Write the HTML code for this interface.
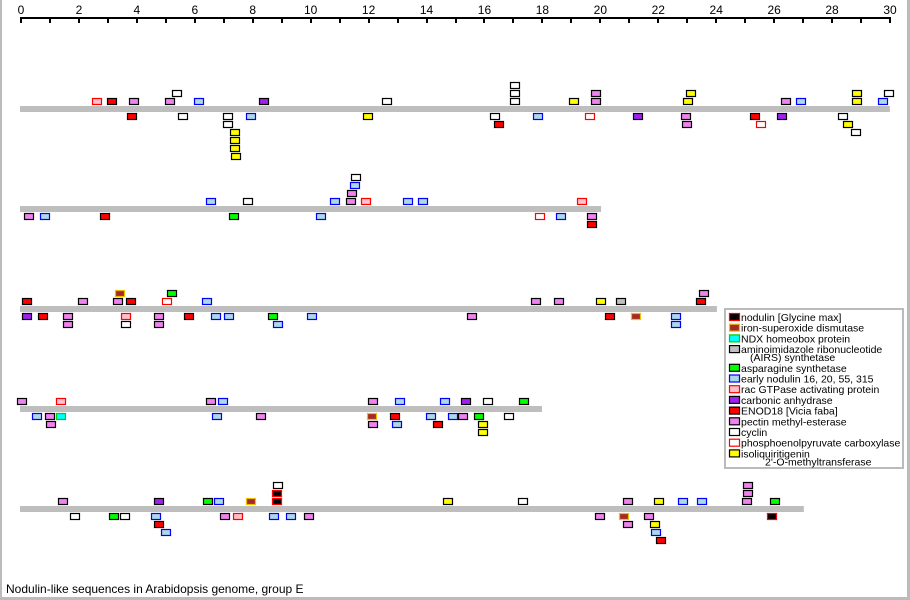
<!DOCTYPE html>
<html><head><meta charset="utf-8"><style>
body{margin:0;background:#fff;}
svg{display:block;font-family:"Liberation Sans",sans-serif;}
</style></head><body>
<svg id="chart" width="910" height="600" xmlns="http://www.w3.org/2000/svg">
<rect x="0" y="0" width="2" height="600" fill="#bbb"/>
<rect x="907" y="0" width="3" height="600" fill="#bbb"/>
<rect x="0" y="597" width="910" height="3" fill="#bbb"/>
<g id="axis"></g>
<g id="chroms"></g>
<g id="legend"></g>
<text x="6" y="593" font-size="12" fill="#000">Nodulin-like sequences in Arabidopsis genome, group E</text>
</svg>
<script>
const axisTicks = [0,1,2,3,4,5,6,7,8,9,10,11,12,13,14,15,16,17,18,19,20,21,22,23,24,25,26,27,28,29,30];
const axisLabels = ["0","2","4","6","8","10","12","14","16","18","20","22","24","26","28","30"];
const chromLengths = [30.03, 20.06, 24.06, 18.02, 27.06];
const chromNames = ["chromosome-1","chromosome-2","chromosome-3","chromosome-4","chromosome-5"];
const typeKeys = ["nod","sod","ndx","airs","asn","enod","rac","ca","e18","pme","cyc","pep","iso"];
const typeLabels = ["nodulin [Glycine max]","iron-superoxide dismutase","NDX homeobox protein","aminoimidazole ribonucleotide|(AIRS) synthetase","asparagine synthetase","early nodulin 16, 20, 55, 315","rac GTPase activating protein","carbonic anhydrase","ENOD18 [Vicia faba]","pectin methyl-esterase","cyclin","phosphoenolpyruvate carboxylase","isoliquiritigenin|2'-O-methyltransferase"];
const chr1Markers = [[2.66,1,'rac'],[3.18,1,'e18'],[3.94,1,'pme'],[5.18,1,'pme'],[6.18,1,'enod'],[8.42,1,'ca'],[12.67,1,'cyc'],[17.09,1,'cyc'],[19.12,1,'iso'],[19.88,1,'pme'],[23.06,1,'iso'],[26.44,1,'pme'],[26.96,1,'enod'],[28.89,1,'iso'],[29.79,1,'enod'],
[5.42,2,'cyc'],[17.09,2,'cyc'],[19.88,2,'pme'],[23.16,2,'iso'],[28.89,2,'iso'],[29.99,2,'cyc'],[17.09,3,'cyc'],
[3.87,-1,'e18'],[5.63,-1,'cyc'],[7.18,-1,'cyc'],[7.97,-1,'enod'],[12.01,-1,'iso'],[16.40,-1,'cyc'],[17.88,-1,'enod'],[19.68,-1,'pep'],[21.33,-1,'ca'],[22.99,-1,'pme'],[25.37,-1,'e18'],[26.30,-1,'ca'],[28.41,-1,'cyc'],
[7.18,-2,'cyc'],[16.53,-2,'e18'],[23.02,-2,'pme'],[25.58,-2,'pep'],[28.58,-2,'iso'],[7.42,-3,'iso'],[28.86,-3,'cyc'],[7.42,-4,'iso'],[7.42,-5,'iso'],[7.46,-6,'iso']];
const chr2Markers = [[6.59,1,'enod'],[7.87,1,'cyc'],[10.87,1,'enod'],[11.43,1,'pme'],[11.94,1,'rac'],[13.39,1,'enod'],[13.91,1,'enod'],[19.40,1,'rac'],
[11.46,2,'pme'],[11.56,3,'enod'],[11.60,4,'cyc'],
[0.31,-1,'pme'],[0.86,-1,'enod'],[2.93,-1,'e18'],[7.39,-1,'asn'],[10.39,-1,'enod'],[17.95,-1,'pep'],[18.67,-1,'enod'],[19.74,-1,'pme'],[19.74,-2,'e18']];
const chr3Markers = [[0.24,1,'e18'],[2.17,1,'pme'],[3.38,1,'pme'],[3.83,1,'e18'],[5.07,1,'pep'],[6.45,1,'enod'],[17.81,1,'pme'],[18.61,1,'pme'],[20.06,1,'iso'],[20.75,1,'airs'],[23.51,1,'e18'],
[3.45,2,'sod'],[5.25,2,'asn'],[23.61,2,'pme'],
[0.24,-1,'ca'],[0.79,-1,'e18'],[1.66,-1,'pme'],[3.66,-1,'rac'],[4.80,-1,'pme'],[5.83,-1,'e18'],[6.77,-1,'enod'],[7.21,-1,'enod'],[8.73,-1,'asn'],[10.08,-1,'enod'],[15.60,-1,'pme'],[20.37,-1,'e18'],[21.26,-1,'sod'],[22.64,-1,'enod'],
[1.66,-2,'pme'],[3.66,-2,'cyc'],[4.80,-2,'pme'],[8.91,-2,'enod'],[22.64,-2,'enod']];
const chr4Markers = [[0.07,1,'pme'],[1.42,1,'rac'],[6.59,1,'pme'],[7.01,1,'enod'],[12.19,1,'pme'],[13.12,1,'enod'],[14.67,1,'enod'],[15.40,1,'ca'],[16.15,1,'cyc'],[17.40,1,'asn'],
[0.59,-1,'enod'],[1.04,-1,'pme'],[1.42,-1,'ndx'],[6.80,-1,'enod'],[8.32,-1,'pme'],[12.15,-1,'sod'],[12.94,-1,'e18'],[14.19,-1,'enod'],[14.95,-1,'enod'],[15.29,-1,'pme'],[15.84,-1,'asn'],[16.88,-1,'cyc'],
[1.07,-2,'pme'],[12.19,-2,'pme'],[13.01,-2,'enod'],[14.43,-2,'e18'],[15.98,-2,'iso'],[15.98,-3,'iso']];
const chr5Markers = [[1.48,1,'pme'],[4.80,1,'ca'],[6.49,1,'asn'],[6.87,1,'enod'],[7.97,1,'sod'],[8.87,1,'nod'],[14.77,1,'iso'],[17.36,1,'cyc'],[20.99,1,'pme'],[22.06,1,'iso'],[22.89,1,'enod'],[23.54,1,'enod'],[25.10,1,'pme'],[26.06,1,'asn'],
[8.87,2,'nod'],[25.13,2,'pme'],[8.91,3,'cyc'],[25.13,3,'pme'],
[1.90,-1,'cyc'],[3.24,-1,'asn'],[3.62,-1,'cyc'],[4.69,-1,'enod'],[7.08,-1,'pme'],[7.53,-1,'rac'],[8.77,-1,'enod'],[9.35,-1,'enod'],[9.98,-1,'pme'],[20.02,-1,'pme'],[20.85,-1,'sod'],[21.71,-1,'pme'],[25.96,-1,'nod'],
[4.80,-2,'e18'],[20.99,-2,'pme'],[21.92,-2,'iso'],[5.04,-3,'enod'],[21.95,-3,'enod'],[22.13,-4,'e18']];

const allMarkers = [chr1Markers, chr2Markers, chr3Markers, chr4Markers, chr5Markers];
const typeStyle = {nod:['#000','#f00'],sod:['#a52a2a','#f0c000'],ndx:['#0ff','#0c0'],airs:['#c0c0c0','#000'],asn:['#0f0','#000'],enod:['#add8e6','#00f'],rac:['#ffc0cb','#f00'],ca:['#a020f0','#000'],e18:['#f00','#000'],pme:['#ee82ee','#000'],cyc:['#fff','#000'],pep:['#fff','#f00'],iso:['#ff0','#000']};
const NS = 'http://www.w3.org/2000/svg';
const X0 = 20, SCALE = (889 - 20) / 30;
function xScale(v){ return X0 + v * SCALE; }
function chromTop(i){ return 106 + i * 100; }
function rowTop(i, row){ return row > 0 ? chromTop(i) - 8 * row : chromTop(i) + 7 + 8 * (-row - 1); }
function mk(tag, attrs, parent){ const e = document.createElementNS(NS, tag); for (const k in attrs) e.setAttribute(k, attrs[k]); parent.appendChild(e); return e; }

const axis = document.getElementById('axis');
const axLine = mk('rect', {x: X0, y: 17, width: xScale(30) - X0 + 2, height: 2, fill: '#000'}, axis);


axisTicks.forEach(t => {
  const tk = mk('rect', {x: Math.round(xScale(t)), y: 17, width: 2, height: 6, fill: '#000'}, axis);
  
  
});
axisLabels.forEach(l => {
  const tx = mk('text', {x: xScale(+l) + 1, y: 14, 'font-size': 12, 'text-anchor': 'middle'}, axis);
  tx.textContent = l;
  
  
});

const chroms = document.getElementById('chroms');
chromLengths.forEach((len, i) => {
  const g = mk('g', {}, chroms);
  
  
  const bar = mk('rect', {x: X0, y: chromTop(i), width: xScale(len) - X0, height: 6, fill: '#bebebe'}, g);
  
  
  allMarkers[i].forEach(m => {
    const st = typeStyle[m[2]];
    const r = mk('rect', {x: Math.round(xScale(m[0])) - 4.5, y: rowTop(i, m[1]) + 0.5, width: 9, height: 6, fill: st[0], stroke: st[1], 'stroke-width': 1.2}, g);
    
    
  });
});

const legend = document.getElementById('legend');
const lbox = mk('rect', {x: 725, y: 309, width: 178, height: 159, fill: '#fff', stroke: '#bbb', 'stroke-width': 2}, legend);


let ly = 312;
typeKeys.forEach((k, j) => {
  const st = typeStyle[k];
  const parts = typeLabels[j].split('|');
  const g = mk('g', {}, legend);
  
  
  mk('rect', {x: 729.5, y: ly + 1.5, width: 10, height: 7, fill: st[0], stroke: st[1], 'stroke-width': 1.2}, g);
  const t = mk('text', {x: 741, y: ly + 9, 'font-size': 10.5}, g);
  t.textContent = parts[0];
  if (parts.length > 1) {
    ly += 8;
    const t2 = mk('text', {x: k === 'iso' ? 765 : 750, y: ly + 9, 'font-size': 10.5}, g);
    t2.textContent = parts[1];
  }
  ly += 10.7;
});
</script>
</body></html>
